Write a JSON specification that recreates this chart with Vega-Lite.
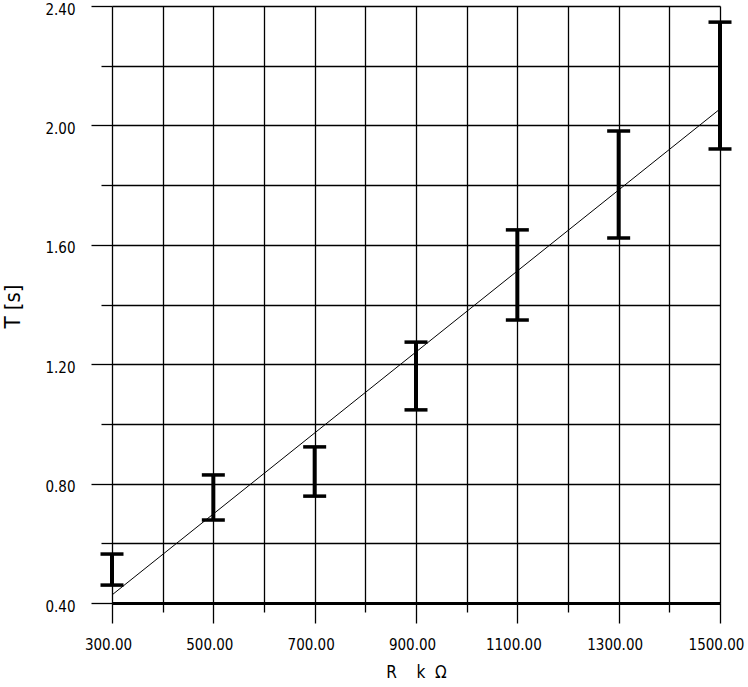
{
  "$schema": "https://vega.github.io/schema/vega-lite/v6.json",
  "width": 608,
  "height": 597,
  "autosize": {"type": "none"},
  "padding": {"left": 112, "top": 6, "right": 28, "bottom": 84},
  "background": "white",
  "config": {
    "view": {"stroke": null},
    "font": "DejaVu Sans Condensed",
    "axis": {
      "labelFont": "DejaVu Sans Condensed",
      "titleFont": "DejaVu Sans Condensed",
      "labelColor": "black",
      "titleColor": "black",
      "titleFontWeight": "normal",
      "gridColor": "black",
      "gridOpacity": 1,
      "gridWidth": 1.3,
      "tickColor": "black",
      "tickWidth": 1.3,
      "domainColor": "black",
      "labelOverlap": false,
      "labelBound": false,
      "labelFlush": false
    }
  },
  "datasets": {
    "bars": [
      {"R": 300, "lo": 0.46, "hi": 0.564},
      {"R": 500, "lo": 0.678, "hi": 0.829},
      {"R": 700, "lo": 0.758, "hi": 0.923},
      {"R": 900, "lo": 1.047, "hi": 1.274},
      {"R": 1100, "lo": 1.348, "hi": 1.65},
      {"R": 1300, "lo": 1.623, "hi": 1.981},
      {"R": 1500, "lo": 1.921, "hi": 2.346}
    ],
    "fit": [
      {"R": 300, "T": 0.427},
      {"R": 1500, "T": 2.055}
    ]
  },
  "layer": [
    {
      "data": {"name": "fit"},
      "mark": {"type": "line", "color": "black", "strokeWidth": 1},
      "encoding": {
        "x": {
          "field": "R", "type": "quantitative",
          "scale": {"domain": [300, 1500], "nice": false, "zero": false},
          "axis": {
            "values": [300, 400, 500, 600, 700, 800, 900, 1000, 1100, 1200, 1300, 1400, 1500],
            "grid": true,
            "domain": true,
            "domainWidth": 3,
            "tickSize": {"condition": {"test": "datum.value % 200 == 100", "value": 20}, "value": 9},
            "labelExpr": "datum.value % 200 == 100 ? format(datum.value, '.2f') : ''",
            "labelFontSize": 15,
            "labelPadding": 14,
            "labelOffset": -4,
            "labelBaseline": "top",
            "title": "R\u00a0\u00a0\u00a0\u00a0k\u00a0\u00a0Ω",
            "titleFontSize": 17,
            "titleBaseline": "middle",
            "titleY": 69
          }
        },
        "y": {
          "field": "T", "type": "quantitative",
          "scale": {"domain": [0.4, 2.4], "nice": false, "zero": false},
          "axis": {
            "values": [0.4, 0.6, 0.8, 1.0, 1.2, 1.4, 1.6, 1.8, 2.0, 2.2, 2.4],
            "grid": true,
            "domain": false,
            "tickSize": {"condition": {"test": "round(datum.value * 10) % 4 == 0", "value": 21}, "value": 11},
            "labelExpr": "round(datum.value * 10) % 4 == 0 ? format(datum.value, '.2f') : ''",
            "labelFontSize": 15,
            "labelPadding": 16,
            "labelOffset": 3,
            "title": "T [s]",
            "titleFontSize": 22,
            "titleAngle": -90,
            "titleAlign": "center",
            "titleBaseline": "middle",
            "titleX": -100,
            "titleY": 300
          }
        }
      }
    },
    {
      "data": {"name": "bars"},
      "mark": {"type": "rule", "color": "black", "strokeWidth": 4},
      "encoding": {
        "x": {"field": "R", "type": "quantitative"},
        "y": {"field": "lo", "type": "quantitative"},
        "y2": {"field": "hi"}
      }
    },
    {
      "data": {"name": "bars"},
      "mark": {"type": "tick", "color": "black", "orient": "horizontal", "thickness": 3.5, "size": 23, "opacity": 1},
      "encoding": {
        "x": {"field": "R", "type": "quantitative"},
        "y": {"field": "lo", "type": "quantitative"}
      }
    },
    {
      "data": {"name": "bars"},
      "mark": {"type": "tick", "color": "black", "orient": "horizontal", "thickness": 3.5, "size": 23, "opacity": 1},
      "encoding": {
        "x": {"field": "R", "type": "quantitative"},
        "y": {"field": "hi", "type": "quantitative"}
      }
    }
  ]
}
